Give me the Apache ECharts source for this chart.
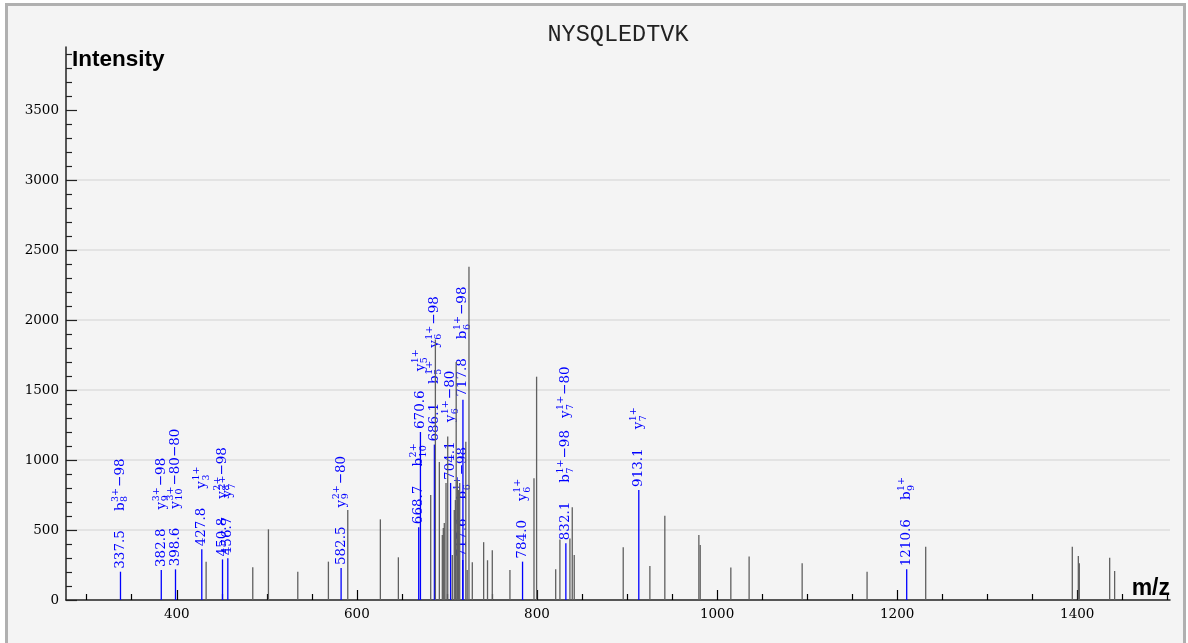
<!DOCTYPE html>
<html><head><meta charset="utf-8">
<script src="https://cdn.jsdelivr.net/npm/echarts@6/dist/echarts.min.js"></script>
<style>html,body{margin:0;padding:0;background:#fff}#c{width:1188px;height:643px}</style>
</head><body><div id="c"></div>
<script>
const chartTitle = 'NYSQLEDTVK';
const xMajorTicks = [400, 600, 800, 1000, 1200, 1400];
const xMinorTicks = [300,350,450,500,550,650,700,750,850,900,950,1050,1100,1150,1250,1300,1350,1450,1500];
const yMajorTicks = [0, 500, 1000, 1500, 2000, 2500, 3000, 3500];
const yMinorTicks = [100,200,300,400,600,700,800,900,1100,1200,1300,1400,1600,1700,1800,1900,2100,2200,2300,2400,2600,2700,2800,2900,3100,3200,3300,3400,3600,3700,3800,3900];

const grayMz = [432.6,484.4,501.8,534.4,568.4,589.9,626.1,646.1,682.0,687.2,691.6,694.9,696.0,697.1,699.0,700.9,706.0,708.2,709.4,710.3,711.6,712.7,714.2,721.0,722.5,724.5,728.2,740.8,745.1,750.4,770.0,796.7,799.6,820.8,825.5,836.6,839.2,841.4,895.8,925.4,942.0,979.8,981.3,1015.3,1035.6,1094.5,1166.6,1231.7,1394.5,1401.2,1402.3,1436.0,1441.5];
const grayIntensity = [274,234,505,202,274,643,576,305,750,1860,985,464,514,550,836,1167,321,643,714,1700,857,786,836,1131,214,2380,270,413,284,355,214,869,1595,219,433,440,662,321,376,243,602,464,393,233,310,262,202,381,381,314,262,302,207];

const annotatedMz = [337.5,382.8,398.6,427.8,450.8,456.7,582.5,668.7,670.6,686.1,704.1,717.6,717.8,784.0,832.1,913.1,1210.6];
const annotatedIntensity = [202,214,219,362,290,298,228,520,1200,1110,836,285,1430,274,405,786,219];
const annotatedIons = [
  ['b_8^{3+}−98'], ['y_9^{3+}−98'], ['y_10^{3+}−80−80'], ['y_3^{1+}'], ['y_8^{2+}−98'], ['y_7^{2+}'],
  ['y_9^{2+}−80'], ['b_10^{2+}'], ['y_5^{1+}'], ['b_5^{1+}', 'y_6^{1+}−98'], ['y_6^{1+}−80'],
  ['b_6^{1+}−98'], ['b_6^{1+}−98'], ['y_6^{1+}'], ['b_7^{1+}−98', 'y_7^{1+}−80'], ['y_7^{1+}'], ['b_9^{1+}']
];

const BLUE = '#0000ff';
const GRAY = '#606060';
const SERIF = '"DejaVu Serif", serif';
const F_MAIN = '13.5px ' + SERIF;
const F_SMALL = '9.5px ' + SERIF;
const ctx = document.createElement('canvas').getContext('2d');
function tw(t, f) { ctx.font = f; return ctx.measureText(t).width; }

const grayData = grayMz.map((m, i) => [m, grayIntensity[i]]);
const annData = annotatedMz.map((m, i) => [m, annotatedIntensity[i], i]);

function renderGray(params, api) {
  const top = api.coord([api.value(0), api.value(1)]);
  const base = api.coord([api.value(0), 0]);
  return { type: 'line', shape: { x1: base[0], y1: base[1], x2: top[0], y2: top[1] },
    style: { stroke: GRAY, lineWidth: 1.3 } };
}

function renderAnn(params, api) {
  const i = api.value(2);
  const top = api.coord([api.value(0), api.value(1)]);
  const base = api.coord([api.value(0), 0]);
  const texts = [];
  let pos = 3;
  const mzText = annotatedMz[i].toFixed(1);
  texts.push({ type: 'text', x: pos, y: 0, style: { text: mzText, font: F_MAIN, fill: BLUE, align: 'left', verticalAlign: 'middle' } });
  pos += tw(mzText, F_MAIN) + 19;
  annotatedIons[i].forEach(ion => {
    const m = ion.match(/^([a-z])_(\d+)\^\{([^}]*)\}(.*)$/);
    const letter = m[1], sub = m[2], sup = m[3], rest = m[4];
    texts.push({ type: 'text', x: pos, y: 0, style: { text: letter, font: F_MAIN, fill: BLUE, align: 'left', verticalAlign: 'middle' } });
    pos += tw(letter, F_MAIN) + 0.5;
    texts.push({ type: 'text', x: pos, y: -5, style: { text: sup, font: F_SMALL, fill: BLUE, align: 'left', verticalAlign: 'middle' } });
    texts.push({ type: 'text', x: pos, y: 4.5, style: { text: sub, font: F_SMALL, fill: BLUE, align: 'left', verticalAlign: 'middle' } });
    pos += Math.max(tw(sup, F_SMALL), tw(sub, F_SMALL)) + 1;
    if (rest) {
      texts.push({ type: 'text', x: pos, y: 0, style: { text: rest, font: F_MAIN, fill: BLUE, align: 'left', verticalAlign: 'middle' } });
      pos += tw(rest, F_MAIN);
    }
    pos += 12;
  });
  return { type: 'group', children: [
    { type: 'line', shape: { x1: base[0], y1: base[1], x2: top[0], y2: top[1] }, style: { stroke: BLUE, lineWidth: 1.3 } },
    { type: 'group', x: top[0], y: top[1], rotation: Math.PI / 2, children: texts }
  ] };
}

const plain = v => String(v);
const chart = echarts.init(document.getElementById('c'));
const axisLineStyle = { color: '#222', width: 1.5 };
chart.setOption({
  animation: false,
  grid: { left: 66, right: 18, top: 47, bottom: 43 },
  graphic: [
    { type: 'rect', z: -10, shape: { x: 6.5, y: 4.5, width: 1178, height: 700 }, style: { fill: '#f4f4f4', stroke: '#b0b0b0', lineWidth: 3 } },
    { type: 'text', x: 618, y: 35, style: { text: chartTitle, font: '23.5px "Liberation Mono", monospace', fill: '#222', align: 'center', verticalAlign: 'middle' } },
    { type: 'text', x: 72, y: 60, style: { text: 'Intensity', font: 'bold 22.5px "Liberation Sans", Arial, sans-serif', fill: '#000', align: 'left', verticalAlign: 'middle' } },
    { type: 'text', x: 1170, y: 589, style: { text: 'm/z', font: 'bold 23px "Liberation Sans", Arial, sans-serif', fill: '#000', align: 'right', verticalAlign: 'middle' } }
  ],
  xAxis: [
    { type: 'value', min: 277, max: 1503, axisLine: { show: true, lineStyle: axisLineStyle },
      axisTick: { show: true, inside: true, length: 10, customValues: xMajorTicks, lineStyle: { color: '#000', width: 1.2 } },
      axisLabel: { show: true, customValues: xMajorTicks, formatter: plain, margin: 7, color: '#000', fontSize: 13.5, fontFamily: SERIF },
      splitLine: { show: false } },
    { type: 'value', min: 277, max: 1503, position: 'bottom', axisLine: { show: false },
      axisTick: { show: true, inside: true, length: 6, customValues: xMinorTicks, lineStyle: { color: '#000', width: 1.2 } },
      axisLabel: { show: false }, splitLine: { show: false } }
  ],
  yAxis: [
    { type: 'value', min: 0, max: 3950, interval: 500, axisLine: { show: true, lineStyle: axisLineStyle },
      axisTick: { show: true, inside: true, length: 11, customValues: yMajorTicks, lineStyle: { color: '#222', width: 1.2 } },
      axisLabel: { show: true, customValues: yMajorTicks, formatter: plain, margin: 7, color: '#000', fontSize: 13.5, fontFamily: SERIF },
      splitLine: { show: true, showMinLine: false, showMaxLine: false, lineStyle: { color: '#dedede', width: 1.5 } } },
    { type: 'value', min: 0, max: 3950, position: 'left', axisLine: { show: false },
      axisTick: { show: true, inside: true, length: 6, customValues: yMinorTicks, lineStyle: { color: '#222', width: 1.2 } },
      axisLabel: { show: false }, splitLine: { show: false } }
  ],
  series: [
    { type: 'custom', name: 'annotated', xAxisIndex: 0, yAxisIndex: 0, data: annData, encode: { x: 0, y: 1 }, renderItem: renderAnn, z: 2 },
    { type: 'custom', name: 'unannotated', xAxisIndex: 0, yAxisIndex: 0, data: grayData, encode: { x: 0, y: 1 }, renderItem: renderGray, z: 3 }
  ]
});
</script></body></html>
